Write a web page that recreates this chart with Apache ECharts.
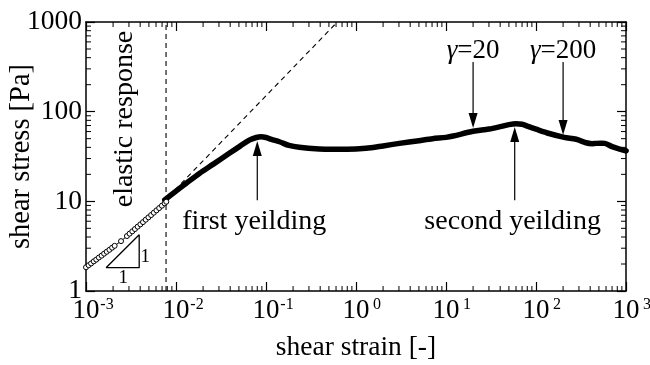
<!DOCTYPE html>
<html><head><meta charset="utf-8">
<script src="https://cdn.jsdelivr.net/npm/echarts@6/dist/echarts.min.js"></script>
<style>html,body{margin:0;padding:0;background:#fff}#c{width:650px;height:365px}</style>
</head><body><div id="c"></div>
<script>
const FONT = '"Liberation Serif","Times New Roman",serif';

// elastic region (open circles)
const elasticStrain = [0.00100,0.00107,0.00114,0.00122,0.00130,0.00139,0.00149,0.00159,0.00170,0.00182,0.00195,0.00208,
  0.00245,0.00285,0.00305,0.00327,0.00350,0.00375,0.00402,0.00430,0.00461,0.00494,0.00529,0.00567,0.00607,0.00650,0.00697,0.00747,0.00780];
const elasticStress = [1.84,1.94,2.03,2.14,2.24,2.36,2.48,2.61,2.74,2.88,3.04,3.19,
  3.60,4.10,4.36,4.63,4.91,5.22,5.54,5.87,6.24,6.63,7.03,7.47,7.93,8.41,8.94,9.50,9.90];

// main (thick) curve
const curveStrain = [0.0075,0.0100,0.0130,0.0182,0.026,0.0391,0.052,0.0652,0.078,0.088,0.100,0.115,0.141,0.18,0.234,0.39,0.55,0.8,
  1.29,2.0,3.03,5.0,7.1,10,12,20,30,40,50,60,70,80,100,140,206,280,359,420,464,530,582,700,850,1000];
const curveStress = [10.4,13.0,15.9,20.5,26.0,34.3,41.5,48.2,51.5,52.5,51.5,49.0,46.2,42.0,40.0,38.3,38.0,38.0,
  39.0,41.5,44.3,47.5,49.9,51.7,53.5,60.5,64.0,68.0,71.7,73.3,72.5,69.0,63.8,57.1,51.7,49.2,45.0,44.0,44.3,44.5,44.3,40.7,38.2,36.6];

// guides
const slopeLineStrain = [0.006, 0.62];
const slopeLineStress = [8.1, 1000];
const elasticLimitStrain = 7.75e-3;
const triStrain = [1.67e-3, 3.9e-3, 3.9e-3, 1.67e-3];
const triStress = [1.82, 1.82, 4.24, 1.82];

// ticks
const xMin = 1e-3, xMax = 1e3, yMin = 1, yMax = 1000;
const minorMult = [2,3,4,5,6,7,8,9];
const xDecades = [1e-3,1e-2,1e-1,1,10,100];
const yDecades = [1,10,100];

// annotations
const arrowStrain = [0.08, 58, 20, 200];
const arrowFrom = [10.3, 10.3, 357, 357];
const arrowTo = [47, 67.4, 65.6, 54.8];
const noteText = ['first yeilding', 'second yeilding', '{g|γ}=20', '{g|γ}=200', 'elastic response', '1', '1'];
const noteStrain = [0.074, 55, 20, 200, 2.7e-3, 2.6e-3, 4.56e-3];
const noteStress = [5.88, 5.88, 480, 480, 82.8, 1.386, 2.37];
const noteRot = [0, 0, 0, 0, 90, 0, 0];
const noteSize = [28, 28, 27, 27, 28, 19, 19];

const xMinor = [], yMinor = [];
xDecades.forEach(d => minorMult.forEach(m => xMinor.push([d * m, 10])));
yDecades.forEach(d => minorMult.forEach(m => yMinor.push([1, d * m])));

const pair = (a, b) => a.map((v, i) => [v, b[i]]);

const chart = echarts.init(document.getElementById('c'), null, {renderer: 'canvas'});
const axisLine = {show: true, lineStyle: {color: '#000', width: 1.5}};
const tick = {show: true, inside: true, length: 9, lineStyle: {color: '#000', width: 1.2}};

chart.setOption({
  animation: false,
  backgroundColor: '#fff',
  grid: {left: 86, right: 24, top: 22, bottom: 74, containLabel: false, outerBoundsMode: 'none'},
  xAxis: [{
    type: 'log', logBase: 10, min: xMin, max: xMax, splitNumber: 6,
    axisLine, axisTick: tick, splitLine: {show: false},
    name: 'shear strain [-]', nameLocation: 'middle', nameGap: 43, nameMoveOverlap: false,
    nameTextStyle: {fontFamily: FONT, fontSize: 27.5, color: '#000'},
    axisLabel: {
      margin: 6,
      formatter: v => '{p| }{b|10}{s|' + Math.round(Math.log10(v)) + '}',
      rich: {
        p: {width: 15, fontSize: 16},
        b: {fontFamily: FONT, fontSize: 27, color: '#000', lineHeight: 28},
        s: {fontFamily: FONT, fontSize: 16, color: '#000', verticalAlign: 'top', width: 15, align: 'left', lineHeight: 13}
      }
    }
  }, {
    type: 'log', logBase: 10, min: xMin, max: xMax, splitNumber: 6, position: 'top',
    axisLine, axisTick: tick, axisLabel: {show: false}, splitLine: {show: false}
  }],
  yAxis: [{
    type: 'log', logBase: 10, min: yMin, max: yMax, splitNumber: 3,
    axisLine, axisTick: tick, splitLine: {show: false},
    name: 'shear stress [Pa]', nameLocation: 'middle', nameGap: 50, nameMoveOverlap: false,
    nameTextStyle: {fontFamily: FONT, fontSize: 28.5, color: '#000'},
    axisLabel: {margin: 4, fontFamily: FONT, fontSize: 27.5, color: '#000', formatter: v => String(Math.round(v))}
  }, {
    type: 'log', logBase: 10, min: yMin, max: yMax, splitNumber: 3, position: 'right',
    axisLine, axisTick: tick, axisLabel: {show: false}, splitLine: {show: false}
  }],
  series: [
    {
      type: 'custom', name: 'xminor', silent: true, data: xMinor,
      renderItem: (params, api) => {
        const cs = params.coordSys;
        const x = api.coord([api.value(0), 10])[0];
        return {type: 'group', children: [
          {type: 'line', shape: {x1: x, y1: cs.y + cs.height, x2: x, y2: cs.y + cs.height - 5}, style: {stroke: '#000', lineWidth: 1}},
          {type: 'line', shape: {x1: x, y1: cs.y, x2: x, y2: cs.y + 5}, style: {stroke: '#000', lineWidth: 1}}
        ]};
      }
    },
    {
      type: 'custom', name: 'yminor', silent: true, data: yMinor,
      renderItem: (params, api) => {
        const cs = params.coordSys;
        const y = api.coord([1, api.value(1)])[1];
        return {type: 'group', children: [
          {type: 'line', shape: {x1: cs.x, y1: y, x2: cs.x + 5, y2: y}, style: {stroke: '#000', lineWidth: 1}},
          {type: 'line', shape: {x1: cs.x + cs.width, y1: y, x2: cs.x + cs.width - 5, y2: y}, style: {stroke: '#000', lineWidth: 1}}
        ]};
      }
    },
    {
      type: 'line', name: 'limit', silent: true, symbol: 'none',
      data: [[elasticLimitStrain, yMin], [elasticLimitStrain, yMax]],
      lineStyle: {color: '#000', width: 1.1, type: [5, 4]}
    },
    {
      type: 'line', name: 'slope1', silent: true, symbol: 'none',
      data: pair(slopeLineStrain, slopeLineStress),
      lineStyle: {color: '#000', width: 1.1, type: [5, 4]}
    },
    {
      type: 'line', name: 'curve', silent: true, symbol: 'none', smooth: 0.3,
      data: pair(curveStrain, curveStress),
      lineStyle: {color: '#000', width: 5.5, cap: 'round', join: 'round'}
    },
    {
      type: 'line', name: 'elastic', silent: true, symbol: 'circle', symbolSize: 5, showSymbol: true,
      data: pair(elasticStrain, elasticStress),
      lineStyle: {color: '#000', width: 1},
      itemStyle: {color: '#fff', borderColor: '#000', borderWidth: 1}
    },
    {
      type: 'scatter', name: 'end', silent: true, symbol: 'circle', symbolSize: 4.5,
      data: [[curveStrain[curveStrain.length - 1], curveStress[curveStress.length - 1]]],
      itemStyle: {color: '#fff', borderColor: '#000', borderWidth: 1}
    },
    {
      type: 'line', name: 'triangle', silent: true, symbol: 'none',
      data: pair(triStrain, triStress),
      lineStyle: {color: '#000', width: 1.3}
    },
    {
      type: 'custom', name: 'arrows', silent: true,
      data: arrowStrain.map((s, i) => [s, arrowFrom[i], arrowTo[i]]),
      renderItem: (params, api) => {
        const x = api.value(0);
        const p1 = api.coord([x, api.value(1)]);
        const p2 = api.coord([x, api.value(2)]);
        const dir = p2[1] > p1[1] ? 1 : -1;
        const headL = 15, headW = 4.5;
        const base = p2[1] - dir * headL;
        return {type: 'group', children: [
          {type: 'line', shape: {x1: p1[0], y1: p1[1], x2: p1[0], y2: base}, style: {stroke: '#000', lineWidth: 1.2}},
          {type: 'polygon', shape: {points: [[p2[0], p2[1]], [p2[0] - headW, base], [p2[0] + headW, base]]}, style: {fill: '#000'}}
        ]};
      }
    },
    {
      type: 'custom', name: 'notes', silent: true,
      data: noteStrain.map((s, i) => [s, noteStress[i], i]),
      renderItem: (params, api) => {
        const i = api.value(2);
        const p = api.coord([api.value(0), api.value(1)]);
        return {
          type: 'text', x: p[0], y: p[1], rotation: noteRot[i] * Math.PI / 180,
          style: {
            text: noteText[i], fontFamily: FONT, fontSize: noteSize[i], fill: '#000',
            align: 'center', verticalAlign: 'middle',
            rich: {g: {fontFamily: FONT, fontSize: noteSize[i], fontStyle: 'italic', fill: '#000'}}
          }
        };
      }
    }
  ]
});
</script></body></html>
